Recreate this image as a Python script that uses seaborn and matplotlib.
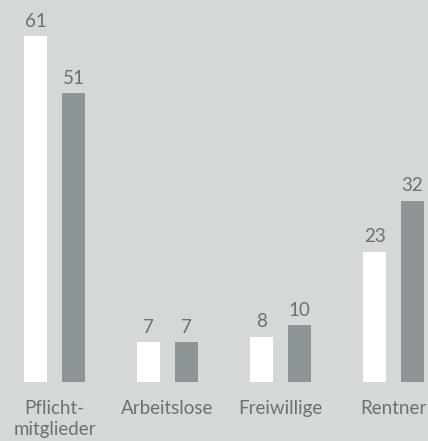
import matplotlib
matplotlib.use("Agg")
import matplotlib.pyplot as plt
import seaborn as sns
import pandas as pd

categories = ["Pflicht-\nmitglieder", "Arbeitslose", "Freiwillige", "Rentner"]
series_a = [61, 7, 8, 23]
series_b = [51, 7, 10, 32]
series_names = ["A", "B"]

df = pd.DataFrame({
    "Kategorie": categories * 2,
    "Serie": [series_names[0]] * 4 + [series_names[1]] * 4,
    "Wert": series_a + series_b,
})

bg = "#d5d8d8"
gray = "#8e9597"
txt = "#6b7171"

sns.set_theme(style="white")
plt.rcParams["font.family"] = ["Lato", "DejaVu Sans"]

fig = plt.figure(figsize=(4.28, 4.41), dpi=100, facecolor=bg)
ax = fig.add_axes([0, 59 / 441, 1, 382 / 441])
ax.set_facecolor(bg)

sns.barplot(data=df, x="Kategorie", y="Wert", hue="Serie", order=categories,
            hue_order=series_names, palette=["#ffffff", gray], width=0.673,
            gap=0.395, saturation=1, legend=False, ax=ax, linewidth=0)

for cont in ax.containers:
    ax.bar_label(cont, padding=4.5, color=txt, fontsize=13.5)

ax.set_xlim(-54.5 / 113, (428 - 54.5) / 113)
ax.set_ylim(0, 382 / 5.67)
ax.set_xlabel("")
ax.set_ylabel("")
ax.set_yticks([])
ax.tick_params(axis="x", length=0, pad=13, labelsize=13.5, colors=txt)
for lbl in ax.get_xticklabels():
    lbl.set_linespacing(1.25)
for s in ax.spines.values():
    s.set_visible(False)

fig.savefig("out.png", dpi=100, facecolor=bg)
